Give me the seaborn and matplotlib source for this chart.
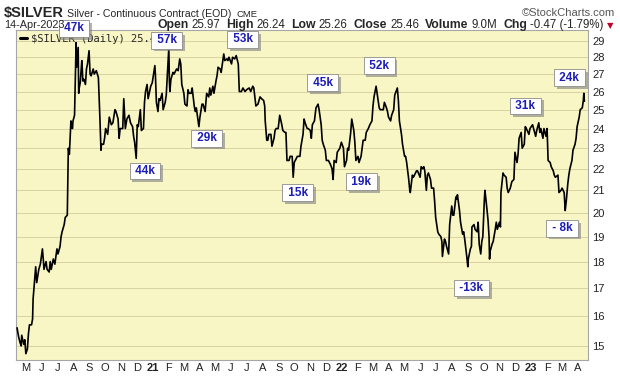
import pandas as pd
import numpy as np
import matplotlib
matplotlib.use("Agg")
import matplotlib.pyplot as plt
import matplotlib.ticker as mticker
import matplotlib.patheffects as pe
import seaborn as sns

# Silver continuous contract, closes (MM-DD per year)
days_2020 = ["04-14", "04-16", "04-17", "04-20", "04-22", "04-23", "04-27", "04-29",
             "05-01", "05-04", "05-06", "05-08", "05-12", "05-14", "05-15", "05-18", "05-20", "05-22", "05-26", "05-29",
             "06-02", "06-04", "06-05", "06-09", "06-11", "06-15", "06-17", "06-19", "06-23", "06-26", "06-30",
             "07-02", "07-06", "07-08", "07-10", "07-14", "07-16", "07-20", "07-21", "07-22", "07-24", "07-27", "07-28", "07-30", "07-31",
             "08-03", "08-04", "08-05", "08-06", "08-07", "08-10", "08-11", "08-12", "08-14", "08-17", "08-18", "08-19", "08-21", "08-24", "08-26", "08-28", "08-31",
             "09-02", "09-04", "09-08", "09-10", "09-14", "09-16", "09-18", "09-21", "09-23", "09-24", "09-28", "09-30",
             "10-02", "10-06", "10-09", "10-13", "10-16", "10-20", "10-22", "10-26", "10-28", "10-30",
             "11-04", "11-06", "11-09", "11-12", "11-16", "11-19", "11-23", "11-25", "11-27", "11-30",
             "12-02", "12-04", "12-08", "12-10", "12-14", "12-16", "12-18", "12-21", "12-23", "12-28", "12-31"]
price_2020 = [15.6, 15.4, 15.3, 15.1, 15.0, 15.35, 15.05, 15.2,
              14.75, 14.9, 15.4, 15.7, 15.7, 15.9, 16.6, 17.3, 17.8, 17.2, 17.7, 17.9,
              18.5, 18.0, 17.7, 18.0, 17.7, 17.6, 18.0, 17.7, 18.1, 17.9, 18.5,
              18.3, 18.6, 19.0, 19.2, 19.5, 19.8, 19.9, 21.5, 23.0, 22.7, 24.4, 24.2, 24.0, 24.4,
              24.7, 26.0, 27.5, 28.9, 27.4, 28.6, 25.9, 26.2, 26.5, 27.8, 27.3, 26.6, 26.7, 26.4, 27.3, 27.6, 28.4,
              27.0, 26.9, 27.3, 27.0, 27.2, 27.0, 26.8, 24.5, 22.9, 23.2, 23.2, 23.5,
              24.0, 23.7, 24.6, 24.2, 24.3, 25.0, 24.9, 24.5, 23.5, 24.0,
              24.0, 25.6, 24.0, 24.5, 24.7, 24.3, 24.1, 23.6, 23.3, 22.5,
              24.2, 24.1, 25.0, 23.9, 24.0, 25.4, 26.0, 26.4, 25.6, 26.3, 26.5]

days_2021 = ["01-05", "01-06", "01-08", "01-11", "01-13", "01-15", "01-19", "01-21", "01-25", "01-27", "01-29",
             "02-01", "02-02", "02-03", "02-05", "02-09", "02-11", "02-16", "02-19", "02-22", "02-24", "02-26",
             "03-02", "03-04", "03-08", "03-10", "03-12", "03-16", "03-18", "03-22", "03-24", "03-26", "03-31",
             "04-02", "04-06", "04-08", "04-12", "04-15", "04-19", "04-21", "04-23", "04-27", "04-29",
             "05-03", "05-05", "05-07", "05-11", "05-13", "05-18", "05-20", "05-24", "05-26", "05-28",
             "06-02", "06-04", "06-08", "06-11", "06-15", "06-17", "06-21", "06-24", "06-28",
             "07-01", "07-06", "07-09", "07-13", "07-15", "07-19", "07-23", "07-27", "07-30",
             "08-03", "08-05", "08-06", "08-09", "08-11", "08-13", "08-17", "08-19", "08-23", "08-25", "08-27", "08-31",
             "09-03", "09-07", "09-09", "09-13", "09-15", "09-17", "09-21", "09-23", "09-27", "09-29",
             "10-01", "10-05", "10-07", "10-12", "10-14", "10-18", "10-20", "10-22", "10-26", "10-28",
             "11-01", "11-03", "11-05", "11-09", "11-12", "11-16", "11-18", "11-22", "11-24", "11-26", "11-30",
             "12-02", "12-06", "12-08", "12-10", "12-13", "12-15", "12-17", "12-21", "12-23", "12-28", "12-31"]
price_2021 = [27.5, 27.0, 25.4, 24.9, 25.6, 25.5, 25.9, 25.0, 25.4, 25.8, 26.9,
              28.6, 26.6, 26.0, 26.7, 27.1, 27.0, 27.3, 27.2, 27.9, 27.6, 26.4,
              25.9, 25.3, 25.2, 26.1, 25.9, 25.9, 26.2, 25.2, 24.9, 25.1, 24.1,
              24.6, 25.3, 25.3, 24.9, 25.9, 25.7, 26.2, 25.8, 26.3, 25.9,
              26.6, 26.9, 27.4, 27.3, 27.1, 28.2, 27.8, 27.9, 27.8, 28.0,
              27.6, 28.0, 27.9, 28.1, 27.6, 26.0, 26.0, 26.2, 26.0,
              26.1, 26.2, 26.0, 26.3, 26.2, 25.2, 25.3, 25.7, 25.6,
              25.5, 25.2, 24.4, 23.4, 23.4, 23.7, 23.7, 23.1, 23.5, 23.9, 24.0, 24.0,
              24.7, 24.2, 23.9, 23.8, 23.8, 22.4, 22.4, 22.6, 22.6, 21.6,
              22.3, 22.5, 22.6, 22.6, 23.1, 23.7, 24.5, 24.3, 24.0, 24.0,
              23.9, 23.5, 24.2, 24.4, 25.1, 25.3, 25.0, 24.2, 23.4, 23.2, 22.9,
              22.4, 22.4, 22.3, 22.2, 22.0, 21.5, 22.4, 22.3, 22.8, 23.0, 23.3]

days_2022 = ["01-04", "01-06", "01-10", "01-12", "01-14", "01-18", "01-20", "01-24", "01-26", "01-28",
             "02-01", "02-03", "02-07", "02-09", "02-11", "02-15", "02-17", "02-21", "02-24", "02-28",
             "03-02", "03-04", "03-08", "03-10", "03-14", "03-16", "03-18", "03-22", "03-24", "03-28", "03-30",
             "04-01", "04-05", "04-07", "04-11", "04-13", "04-18", "04-20", "04-22", "04-26", "04-28",
             "05-02", "05-04", "05-06", "05-10", "05-12", "05-13", "05-17", "05-19", "05-23", "05-25", "05-27",
             "06-01", "06-03", "06-06", "06-08", "06-10", "06-13", "06-15", "06-17", "06-21", "06-23", "06-27", "06-29",
             "07-01", "07-05", "07-07", "07-11", "07-13", "07-14", "07-18", "07-20", "07-22", "07-26", "07-28",
             "08-01", "08-03", "08-05", "08-09", "08-11", "08-12", "08-16", "08-18", "08-22", "08-24", "08-26", "08-30",
             "09-01", "09-02", "09-06", "09-08", "09-09", "09-13", "09-15", "09-19", "09-21", "09-23", "09-26", "09-28", "09-30",
             "10-03", "10-04", "10-06", "10-10", "10-12", "10-13", "10-14", "10-18", "10-20", "10-24", "10-26", "10-28",
             "11-01", "11-03", "11-04", "11-08", "11-10", "11-14", "11-16", "11-18", "11-22", "11-25", "11-29",
             "12-01", "12-05", "12-07", "12-09", "12-13", "12-15", "12-19", "12-21", "12-23", "12-28", "12-30"]
price_2022 = [23.0, 22.1, 22.4, 23.0, 22.9, 23.8, 24.5, 23.9, 23.3, 22.4,
              22.6, 22.3, 22.6, 23.0, 23.4, 23.4, 23.8, 24.0, 24.2, 24.4,
              25.2, 25.7, 26.3, 25.9, 25.1, 25.0, 25.0, 25.0, 25.4, 25.1, 24.9,
              24.6, 24.4, 24.7, 25.0, 25.8, 26.2, 25.5, 24.4, 23.7, 23.2,
              22.6, 22.6, 22.3, 21.5, 21.0, 20.9, 21.7, 21.6, 21.8, 21.9, 21.9,
              21.6, 22.1, 22.0, 22.1, 21.9, 21.0, 21.7, 21.8, 21.5, 21.1, 21.1, 20.5,
              19.8, 19.2, 19.1, 19.0, 18.8, 18.2, 18.9, 18.8, 18.6, 18.3, 19.5,
              20.3, 19.9, 19.9, 20.7, 20.6, 20.8, 20.1, 19.6, 19.1, 19.2, 18.9, 18.2,
              17.8, 18.1, 18.5, 18.6, 19.4, 19.5, 19.3, 19.2, 19.6, 18.7, 18.3, 18.8, 19.0,
              20.6, 21.0, 20.6, 19.7, 19.0, 18.1, 18.4, 18.7, 18.8, 19.3, 19.6, 19.3,
              19.6, 19.4, 20.9, 21.8, 21.7, 21.6, 21.1, 20.9, 21.1, 21.4, 21.5,
              22.8, 22.3, 22.7, 23.5, 23.8, 23.0, 23.2, 24.1, 24.0, 23.7, 24.0]

days_2023 = ["01-04", "01-06", "01-10", "01-12", "01-16", "01-18", "01-20", "01-24", "01-26", "01-30",
             "02-01", "02-03", "02-07", "02-09", "02-13", "02-15", "02-17", "02-22", "02-24", "02-28",
             "03-02", "03-06", "03-08", "03-10", "03-13", "03-15", "03-17", "03-21", "03-23", "03-27", "03-29", "03-31",
             "04-04", "04-06", "04-10", "04-12", "04-13", "04-14"]
price_2023 = [24.2, 24.0, 23.6, 23.9, 24.3, 23.8, 24.0, 23.5, 24.0, 23.6,
              24.0, 22.4, 22.3, 22.1, 21.9, 21.7, 21.6, 21.7, 20.9, 21.0,
              21.1, 20.9, 20.1, 20.5, 21.3, 21.7, 22.0, 22.4, 22.9, 23.2, 23.5, 24.1,
              24.6, 25.0, 25.1, 25.5, 25.9, 25.46]

# volume boxes shown on the chart
vol_labels = ["47k", "57k", "53k", "44k", "29k", "15k", "45k", "19k", "52k", "-13k", "31k", "24k", "- 8k"]
vol_dates = ["2020-08-02", "2021-01-28", "2021-06-24", "2020-12-17", "2021-04-15", "2021-10-08", "2021-11-25",
             "2022-02-08", "2022-03-14", "2022-09-08", "2022-12-21", "2023-03-16", "2023-03-02"]
vol_prices = [29.8, 29.05, 29.1, 21.9, 23.5, 20.9, 26.5, 21.4, 27.5, 17.0, 25.2, 26.8, 19.35]

y_ticks = list(range(15, 30))
month_letters = ["J", "F", "M", "A", "M", "J", "J", "A", "S", "O", "N", "D"]


def year_frame(year, days, prices):
    assert len(days) == len(prices)
    return pd.DataFrame({"date": pd.to_datetime([f"{year}-{d}" for d in days]), "price": prices})


df = pd.concat([year_frame(2020, days_2020, price_2020),
                year_frame(2021, days_2021, price_2021),
                year_frame(2022, days_2022, price_2022),
                year_frame(2023, days_2023, price_2023)], ignore_index=True)

sns.set_style("white")
plt.rcParams["font.family"] = ["Liberation Sans", "DejaVu Sans"]

W, H = 620, 376
BG = "#f9f6c6"
GRID = "#d9d2a2"

fig = plt.figure(figsize=(W / 100, H / 100), dpi=100)
ax = fig.add_axes([16 / W, 1 - 360 / H, (588 - 16) / W, (360 - 30) / H])
ax.set_facecolor(BG)

sns.lineplot(data=df, x="date", y="price", ax=ax, color="black", linewidth=1.2,
             label="$SILVER (Daily) 25.46", zorder=3)

# log price axis on the right
ax.set_yscale("log")
ax.set_ylim(14.55, 29.7)
ax.yaxis.set_major_locator(mticker.FixedLocator(y_ticks))
ax.yaxis.set_major_formatter(mticker.FuncFormatter(lambda v, p: f"{v:.0f}"))
ax.yaxis.set_minor_locator(mticker.NullLocator())
ax.yaxis.tick_right()
ax.set_xlabel("")
ax.set_ylabel("")

# months along the bottom, year number in January
ax.set_xlim(pd.Timestamp("2020-04-12"), pd.Timestamp("2023-04-21"))
months = pd.date_range("2020-05-01", "2023-04-01", freq="MS")
labels = [f"{m.year % 100:02d}" if m.month == 1 else month_letters[m.month - 1] for m in months]
ax.set_xticks(months)
ax.set_xticklabels(labels)
for m, t in zip(months, ax.get_xticklabels()):
    if m.month == 1:
        t.set_fontweight("bold")
        t.set_fontsize(9)
quarters = [m for m in months if m.month in (1, 4, 7, 10)]
ax.set_xticks(quarters, minor=True)

ax.grid(False)
ax.grid(axis="y", which="major", color=GRID, linewidth=0.7)
ax.grid(axis="x", which="minor", color=GRID, linewidth=0.7)
ax.tick_params(which="both", length=0)
ax.tick_params(axis="y", labelsize=8, labelcolor="#222222", pad=3)
ax.tick_params(axis="x", labelsize=8, labelcolor="#222222", pad=2)
for s in ax.spines.values():
    s.set_color("#a6a6a6")
    s.set_linewidth(0.8)

leg = ax.legend(loc="upper left", frameon=False, handlelength=0.7, handletextpad=0.4,
                borderaxespad=0.15, borderpad=0.2,
                prop={"family": "DejaVu Sans Mono", "size": 7.5})
leg.get_lines()[0].set_linewidth(2.2)
leg.set_zorder(5)

# volume boxes
for lab, d, p in zip(vol_labels, vol_dates, vol_prices):
    t = ax.text(pd.Timestamp(d), p, f" {lab} ", ha="center", va="center", fontsize=8.5,
                fontweight="bold", color="#1c1cb8", zorder=10, clip_on=False,
                bbox=dict(boxstyle="square,pad=0.2", fc="white", ec="#8c8c8c", lw=0.6))
    t.get_bbox_patch().set_path_effects([
        pe.SimplePatchShadow(offset=(2, -2), shadow_rgbFace="#7f7f7f", alpha=0.6),
        pe.Normal()])


# header lines
def px(x, y):
    return x / W, 1 - y / H


renderer = fig.canvas.get_renderer()


def run_of_text(x, y, parts):
    # lay text pieces out left to right, each after the previous one
    for txt, size, weight, gap in parts:
        t = fig.text(*px(x, y), txt, fontsize=size, fontweight=weight, va="baseline")
        x += t.get_window_extent(renderer).width + gap
    return x


run_of_text(4, 17, [("$SILVER", 10.5, "bold", 3),
                    ("Silver - Continuous Contract (EOD)", 7.6, "normal", 5),
                    ("CME", 6.8, "normal", 0)])
fig.text(*px(615, 16), "\u00a9StockCharts.com", fontsize=8, color="#555555", ha="right", va="baseline")
fig.text(*px(4, 28), "14-Apr-2023", fontsize=7.8, va="baseline")

quote = [("Open", 8.8, "bold", 3), ("25.97", 8.3, "normal", 6), ("High", 8.8, "bold", 3), ("26.24", 8.3, "normal", 6),
         ("Low", 8.8, "bold", 3), ("25.26", 8.3, "normal", 6), ("Close", 8.8, "bold", 3), ("25.46", 8.3, "normal", 6),
         ("Volume", 8.8, "bold", 3), ("9.0M", 8.3, "normal", 6), ("Chg", 8.8, "bold", 3), ("-0.47 (-1.79%)", 8.3, "normal", 3)]
x_end = run_of_text(157, 28, quote)
fig.text(*px(x_end, 28), "\u25bc", fontsize=6, color="#c0002a", va="baseline", family="DejaVu Sans")

fig.savefig("out.png", dpi=100, facecolor="white")
